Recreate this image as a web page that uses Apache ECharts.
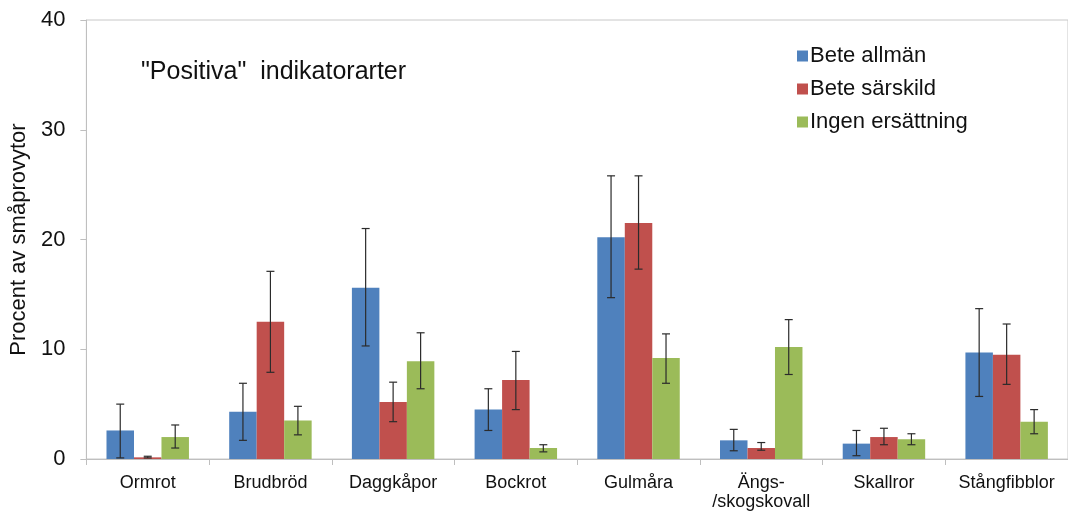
<!DOCTYPE html>
<html>
<head>
<meta charset="utf-8">
<script src="https://cdn.jsdelivr.net/npm/echarts@6/dist/echarts.min.js"></script>
<style>
  html, body { margin: 0; padding: 0; background: #fff; }
  #main { width: 1068px; height: 512px; }
</style>
</head>
<body>
<div id="main"></div>
<script>
// kategorier och värden
var categories = ["Ormrot", "Brudbröd", "Daggkåpor", "Bockrot", "Gulmåra", "Ängs-\n/skogskovall", "Skallror", "Stångfibblor"];
var seriesNames = ["Bete allmän", "Bete särskild", "Ingen ersättning"];
var yTicks = [0, 10, 20, 30, 40];

var beteAllman    = [2.6, 4.3, 15.6, 4.5, 20.2, 1.7, 1.4, 9.7];
var beteSarskild  = [0.15, 12.5, 5.2, 7.2, 21.5, 1.0, 2.0, 9.5];
var ingenErsatt   = [2.0, 3.5, 8.9, 1.0, 9.2, 10.2, 1.8, 3.4];

// felstaplar: nedre och övre gräns
var allmanLow   = [0.1, 1.7, 10.3, 2.6, 14.7, 0.75, 0.3, 5.7];
var allmanHigh  = [5.0, 6.9, 21.0, 6.4, 25.8, 2.7, 2.6, 13.7];
var sarskLow    = [0.1, 7.9, 3.4, 4.5, 17.3, 0.8, 1.3, 6.8];
var sarskHigh   = [0.25, 17.1, 7.0, 9.8, 25.8, 1.5, 2.8, 12.3];
var ingenLow    = [1.0, 2.2, 6.4, 0.65, 6.9, 7.7, 1.3, 2.3];
var ingenHigh   = [3.1, 4.8, 11.5, 1.3, 11.4, 12.7, 2.3, 4.5];

var colors = ["#4f81bd", "#c0504d", "#9bbb59"];
var barShare = 0.224; // del av kategoribredden per stapel

var myChart = echarts.init(document.getElementById("main"));

function errorSeries(idx, low, high) {
  var data = low.map(function (l, i) { return [i, l, high[i]]; });
  return {
    type: "custom",
    name: seriesNames[idx] + " fel",
    silent: true,
    z: 10,
    data: data,
    encode: { x: 0, y: [1, 2] },
    renderItem: function (params, api) {
      var cat = api.value(0);
      var lo = api.coord([cat, api.value(1)]);
      var hi = api.coord([cat, api.value(2)]);
      var band = api.size([1, 0])[0];
      var x = lo[0] + (idx - 1) * band * barShare;
      var cap = 4;
      var style = { stroke: "#2b2b2b", lineWidth: 1.2 };
      return {
        type: "group",
        children: [
          { type: "line", shape: { x1: x, y1: lo[1], x2: x, y2: hi[1] }, style: style },
          { type: "line", shape: { x1: x - cap, y1: lo[1], x2: x + cap, y2: lo[1] }, style: style },
          { type: "line", shape: { x1: x - cap, y1: hi[1], x2: x + cap, y2: hi[1] }, style: style }
        ]
      };
    }
  };
}

function barSeries(idx, values) {
  return {
    type: "bar",
    name: seriesNames[idx],
    data: values,
    barWidth: (barShare * 100) + "%",
    barGap: "0%",
    itemStyle: { color: colors[idx] }
  };
}

var option = {
  animation: false,
  textStyle: { fontFamily: "Liberation Sans, Arial, sans-serif" },
  title: {
    text: '"Positiva"  indikatorarter',
    left: 136,
    top: 55,
    textStyle: { fontSize: 25, fontWeight: "normal", color: "#111" }
  },
  legend: {
    orient: "vertical",
    left: 792,
    top: 40,
    itemWidth: 11,
    itemHeight: 11,
    itemGap: 11,
    icon: "rect",
    data: seriesNames,
    textStyle: { fontSize: 22, color: "#111", padding: [0, 0, 0, -3] }
  },
  grid: {
    left: 83,
    right: -7,
    top: 20,
    bottom: 49,
    show: true,
    borderColor: "#c8c8c8",
    borderWidth: 1
  },
  xAxis: {
    type: "category",
    data: categories,
    axisLine: { lineStyle: { color: "#bfbfbf" } },
    axisTick: { show: true, length: 6, lineStyle: { color: "#bfbfbf" } },
    axisLabel: { fontSize: 18, color: "#111", margin: 15, lineHeight: 19, interval: 0 },
    splitLine: { show: false }
  },
  yAxis: {
    type: "value",
    min: yTicks[0],
    max: yTicks[yTicks.length - 1],
    interval: 10,
    name: "Procent av småprovytor",
    nameLocation: "middle",
    nameGap: 55,
    nameTextStyle: { fontSize: 22, color: "#111" },
    axisLine: { show: true, lineStyle: { color: "#bfbfbf" } },
    axisTick: { show: true, length: 6, lineStyle: { color: "#bfbfbf" } },
    axisLabel: { fontSize: 22, color: "#111", margin: 21 },
    splitLine: { show: false }
  },
  series: [
    barSeries(0, beteAllman),
    barSeries(1, beteSarskild),
    barSeries(2, ingenErsatt),
    errorSeries(0, allmanLow, allmanHigh),
    errorSeries(1, sarskLow, sarskHigh),
    errorSeries(2, ingenLow, ingenHigh)
  ]
};

myChart.setOption(option);
</script>
</body>
</html>
